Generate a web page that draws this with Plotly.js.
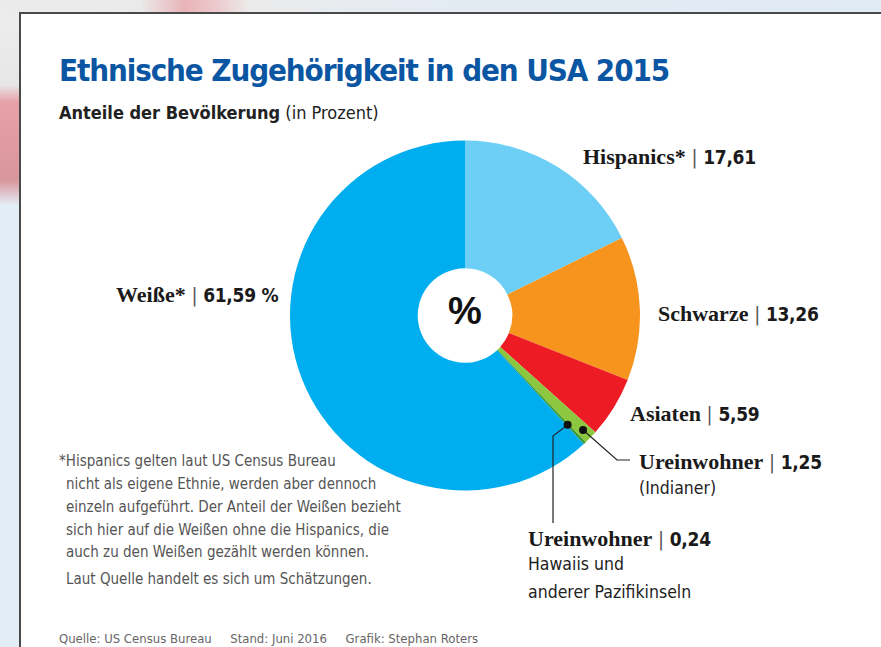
<!DOCTYPE html>
<html>
<head>
<meta charset="utf-8">
<script src="https://cdn.plot.ly/plotly-3.0.1.min.js"></script>
<style>
  html, body { margin: 0; padding: 0; }
  body {
    width: 881px; height: 647px; overflow: hidden;
    background:
      linear-gradient(to right, #ebebeb 0px, #eaeaea 140px, #e9b4b9 185px, #ecc9cc 215px, #ebebeb 250px, #e4ebf2 420px, #e1ebf4 881px) top left / 881px 14px no-repeat,
      linear-gradient(to bottom, #eeeeee 0px, #e6e6e6 85px, #e6a1a9 102px, #d9959c 180px, #e3edf6 205px, #e3edf6 647px) top left / 22px 647px no-repeat,
      #e3edf6;
  }
  #chart { width: 881px; height: 647px; }
</style>
</head>
<body>
<div id="chart"></div>
<script>
// ---- data ----
const categories = ["Hispanics*", "Schwarze", "Asiaten", "Ureinwohner (Indianer)", "Ureinwohner (Hawaii/Pazifik)", "Weiße*"];
const values = [17.61, 13.26, 5.59, 1.25, 0.24, 61.59];
const valueLabels = ["17,61", "13,26", "5,59", "1,25", "0,24", "61,59 %"];
const colors = ["#6dcff6", "#f7941d", "#ed1c24", "#8dc63f", "#3a9b35", "#00aeef"];

const W = 881, H = 647;
const px = v => v / W;
const py = v => 1 - v / H;

// pie geometry (pixels)
const cx = 465, cy = 315.5, R = 175;

const narrow = "'Liberation Sans Narrow', 'DejaVu Sans Condensed', 'Liberation Sans', sans-serif";

function label(name, val) {
  return '<span style="font-family:Liberation Serif, DejaVu Serif, serif;font-weight:bold;font-size:22px">' + name + '</span>' +
         '<span style="color:#555;font-weight:normal"> | </span>' +
         '<span style="font-size:19px;font-weight:bold;letter-spacing:-0.3px">' + val + '</span>';
}

// dot position at fraction of radius for slice i (mid-angle, clockwise from 12 o'clock)
const total = values.reduce((a, b) => a + b, 0);
function slicePoint(i, rf) {
  let before = 0;
  for (let k = 0; k < i; k++) before += values[k];
  const frac = (before + values[i] / 2) / total;
  const th = frac * 2 * Math.PI;
  return [cx + rf * R * Math.sin(th), cy - rf * R * Math.cos(th)];
}

const trace = {
  type: "pie",
  labels: categories,
  values: values,
  sort: false,
  direction: "clockwise",
  rotation: 0,
  hole: 0.27,
  textinfo: "none",
  hoverinfo: "label+value",
  marker: { colors: colors, line: { width: 0 } },
  domain: { x: [px(cx - R), px(cx + R)], y: [py(cy + R), py(cy - R)] },
  showlegend: false
};

const baseFont = { family: narrow, size: 20, color: "#1a1a1a" };
const anns = [];
function addText(text, x, y, font, anchor) {
  anns.push({
    text: text, x: px(x), y: py(y), xref: "paper", yref: "paper",
    xanchor: anchor || "left", yanchor: "middle", showarrow: false,
    font: Object.assign({}, baseFont, font || {}), align: "left"
  });
}

// slice labels
addText(label("Hispanics*", valueLabels[0]), 581, 157);
addText(label("Schwarze", valueLabels[1]), 656, 313);
addText(label("Asiaten", valueLabels[2]), 628, 413);
addText(label("Ureinwohner", valueLabels[3]), 637, 461);
addText("(Indianer)", 637, 488, { size: 17.5, color: "#222" });
addText(label("Ureinwohner", valueLabels[4]), 526, 538);
addText("Hawaiis und", 526, 564, { size: 17.5, color: "#222" });
addText("anderer Pazifikinseln", 526, 592, { size: 17.5, color: "#222" });
addText(label("Weiße*", valueLabels[5]), 114, 294);

// center %
addText("<b>%</b>", cx, 311, { size: 38, color: "#111", family: "'Liberation Sans', sans-serif" }, "center");

// title
addText('<b><span style="letter-spacing:-1.1px">Ethnische Zugehörigkeit in den USA 2015</span></b>', 57, 70, { size: 31, color: "#0b56a3" });

// subtitle
addText("<b>Anteile der Bevölkerung</b> (in Prozent)", 57, 112, { size: 18, color: "#222" });

// footnote
const foot = [
  ["*Hispanics gelten laut US Census Bureau", 57, 461],
  ["nicht als eigene Ethnie, werden aber dennoch", 64, 484],
  ["einzeln aufgeführt. Der Anteil der Weißen bezieht", 64, 507],
  ["sich hier auf die Weißen ohne die Hispanics, die", 64, 530],
  ["auch zu den Weißen gezählt werden können.", 64, 552],
  ["Laut Quelle handelt es sich um Schätzungen.", 64, 579]
];
foot.forEach(f => addText(f[0], f[1], f[2], { size: 15, color: "#555" }));

// source line
addText("Quelle: US Census Bureau&nbsp;&nbsp;&nbsp;&nbsp;&nbsp;Stand: Juni 2016&nbsp;&nbsp;&nbsp;&nbsp;&nbsp;Grafik: Stephan Roters", 57, 638, { size: 13, color: "#666" });

// shapes: card, leader lines, dots
const shapes = [
  { type: "rect", xref: "paper", yref: "paper", x0: px(20), x1: px(W + 10), y0: py(H + 10), y1: py(13),
    fillcolor: "#ffffff", line: { color: "#4a4a4a", width: 2 }, layer: "below" }
];
const d1 = slicePoint(3, 0.94); // Indianer
const d2 = slicePoint(4, 0.857); // Hawaii
shapes.push({ type: "path", xref: "paper", yref: "paper",
  path: "M " + px(d1[0]) + "," + py(d1[1]) + " L " + px(617) + "," + py(460) + " L " + px(630) + "," + py(460),
  line: { color: "#222", width: 1.2 } });
shapes.push({ type: "path", xref: "paper", yref: "paper",
  path: "M " + px(d2[0]) + "," + py(d2[1]) + " L " + px(553) + "," + py(436) + " L " + px(553) + "," + py(523),
  line: { color: "#222", width: 1.2 } });
[d1, d2].forEach(d => shapes.push({ type: "circle", xref: "paper", yref: "paper",
  x0: px(d[0] - 4), x1: px(d[0] + 4), y0: py(d[1] + 4), y1: py(d[1] - 4),
  fillcolor: "#111", line: { width: 0 } }));

const layout = {
  width: W, height: H,
  margin: { l: 0, r: 0, t: 0, b: 0 },
  paper_bgcolor: "rgba(0,0,0,0)",
  plot_bgcolor: "rgba(0,0,0,0)",
  shapes: shapes,
  annotations: anns
};

Plotly.newPlot("chart", [trace], layout, { displayModeBar: false, staticPlot: true });
</script>
</body>
</html>
